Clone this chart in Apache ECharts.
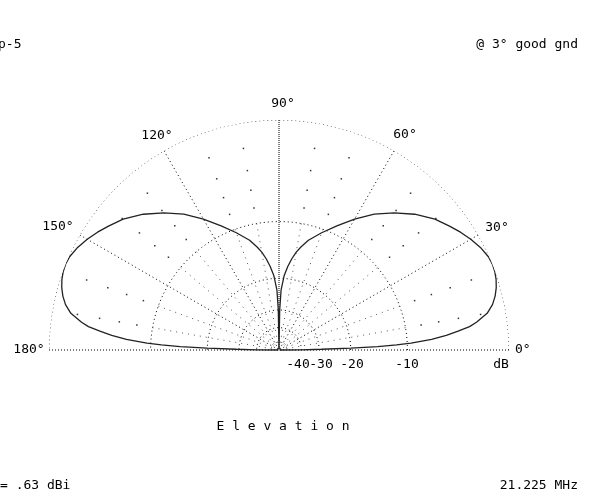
<!DOCTYPE html>
<html>
<head>
<meta charset="utf-8">
<script src="https://cdn.jsdelivr.net/npm/echarts@6/dist/echarts.min.js"></script>
<style>
html,body{margin:0;padding:0;background:#fff;}
#chart{width:594px;height:497px;}
</style>
</head>
<body>
<div id="chart"></div>
<script>
// ---- data (elevation angle in degrees, relative gain in dB) ----
const elevAnglesRight = [0,0.5,1,1.5,2,2.5,3,4,5,6,7,8,10,12,14,16,18,20,22,24,27,30,33,36,40,45,50,55,60,65,70,75,78,80,82,84,86,88,89,90];
const gainDbRight     = [-100,-40,-29,-20,-14.5,-11.5,-9.5,-7.0,-5.4,-4.2,-3.1,-2.45,-1.45,-0.9,-0.55,-0.3,-0.13,-0.03,0,-0.06,-0.3,-0.65,-1.05,-1.5,-2.1,-3.1,-4.3,-5.6,-7.2,-8.9,-10.5,-12.1,-13.4,-14.4,-15.7,-17.3,-19.3,-23,-30,-100];
const elevAnglesLeft  = [91,92,94,96,98,100,102,105,110,115,120,125,130,135,140,144,147,150,153,156,158,160,162,164,166,168,170,172,173,174,175,176,177,177.5,178,178.5,179,179.5,180];
const gainDbLeft      = [-30,-23,-19.3,-17.3,-15.7,-14.4,-13.4,-12.1,-10.5,-8.9,-7.2,-5.6,-4.3,-3.1,-2.1,-1.5,-1.05,-0.65,-0.3,-0.06,0,-0.03,-0.13,-0.3,-0.55,-0.9,-1.45,-2.45,-3.1,-4.2,-5.4,-7.0,-9.5,-11.5,-14.5,-20,-29,-40,-100];

// grid definitions
const ringDb = [0,-10,-20,-30,-40];
const majorSpokes = [30,60,120,150];
const minorSpokes = [10,20,40,50,70,80,100,110,130,140,160,170];
const dotDb = [-2,-4,-6,-8];
const angleLabels = ['0°','30°','60°','90°','120°','150°','180°'];
const dbLabels = ['-40','-30','-20','-10','dB'];

// ARRL log-periodic radial scale: each 2 dB = 0.89 radius
function toR(db){ return Math.pow(0.89, -db/2); }

const pattern = [];
elevAnglesRight.forEach((a,i)=>pattern.push([toR(gainDbRight[i]), a]));
elevAnglesLeft.forEach((a,i)=>pattern.push([toR(gainDbLeft[i]), a]));

const series = [];
const F = 'DejaVu Sans Mono';

// rings
ringDb.forEach(db=>{
  const pts=[]; for(let a=0;a<=180;a+=1) pts.push([toR(db), a]);
  series.push({type:'line', coordinateSystem:'polar', data:pts, showSymbol:false, silent:true,
    lineStyle:{color:'#000', width:1, type:[1,3]}, z:1});
});
// baseline
series.push({type:'line', coordinateSystem:'polar', data:[[1,0],[0,0],[1,180]], showSymbol:false, silent:true,
  lineStyle:{color:'#000', width:1, type:[1,2]}, z:1});
// 90 deg spoke
series.push({type:'line', coordinateSystem:'polar', data:[[1,90],[0,90]], showSymbol:false, silent:true,
  lineStyle:{color:'#000', width:1, type:[1,1]}, z:1});
// major spokes
majorSpokes.forEach(a=>{
  series.push({type:'line', coordinateSystem:'polar', data:[[1,a],[0,a]], showSymbol:false, silent:true,
    lineStyle:{color:'#000', width:1, type:[1,3]}, z:1});
});
// minor spokes inside -10 dB ring
minorSpokes.forEach(a=>{
  series.push({type:'line', coordinateSystem:'polar', data:[[toR(-10),a],[0,a]], showSymbol:false, silent:true,
    lineStyle:{color:'#555', width:1, type:[1,5]}, z:1});
});
// dots in outer annulus
const dots=[];
minorSpokes.forEach(a=>dotDb.forEach(db=>dots.push([toR(db), a])));
series.push({type:'scatter', coordinateSystem:'polar', data:dots, symbol:'rect', symbolSize:1.5, silent:true,
  itemStyle:{color:'#000'}, z:1});
// pattern
series.push({type:'line', coordinateSystem:'polar', data:pattern, showSymbol:false, silent:true,
  lineStyle:{color:'#222', width:1.3}, z:5});

function txt(t,x,y,align){
  return {type:'text', x:x, y:y, silent:true,
    style:{text:t, font:'13px "'+F+'"', fill:'#000', align:align||'center', verticalAlign:'middle'}};
}
const angPos = [[515,350,'left'],[497,228],[405,135],[283,104],[157,136],[58,227],[29,350]];
const dbPos = [298,321,352,407,501];
const graphics = [];
angleLabels.forEach((t,i)=>graphics.push(txt(t,angPos[i][0],angPos[i][1],angPos[i][2])));
dbLabels.forEach((t,i)=>graphics.push(txt(t,dbPos[i],365)));
graphics.push(txt('p-5',-2,45,'left'));
graphics.push(txt('@ 3° good gnd',578,45,'right'));
graphics.push(txt('E l e v a t i o n',283,427));
graphics.push(txt('= .63 dBi',0,486,'left'));
graphics.push(txt('21.225 MHz',578,486,'right'));

const chart = echarts.init(document.getElementById('chart'), null, {renderer:'canvas'});
chart.setOption({
  animation:false,
  backgroundColor:'#fff',
  polar:{center:[279,350], radius:230},
  angleAxis:{type:'value', min:0, max:360, startAngle:0, clockwise:false, show:false},
  radiusAxis:{type:'value', min:0, max:1, show:false},
  series:series,
  graphic:graphics
});
</script>
</body>
</html>
